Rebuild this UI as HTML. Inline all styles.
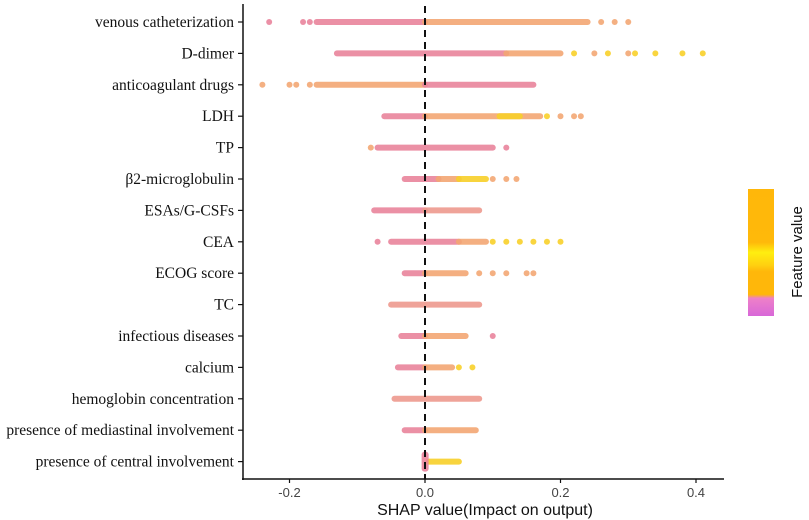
<!DOCTYPE html>
<html><head><meta charset="utf-8"><style>
body{margin:0;background:#fff;}
svg{display:block}
.lab{font-family:"Liberation Serif",serif;font-size:15.5px;fill:#111}
.tk{font-family:"Liberation Sans",sans-serif;font-size:13px;fill:#444}
</style></head><body>
<svg width="809" height="520">
<g id="plot"></g>
</svg>
<script>
const features=["venous catheterization","D-dimer","anticoagulant drugs","LDH","TP","β2-microglobulin","ESAs/G-CSFs","CEA","ECOG score","TC","infectious diseases","calcium","hemoglobin concentration","presence of mediastinal involvement","presence of central involvement"];
// dense bands: [featureIndex, start, end, colorKey]
const bandRow=[0,0,1,1,2,2,3,3,3,4,5,5,5,6,6,7,7,8,8,9,10,10,11,11,12,13,13,14];
const bandStart=[-0.16,0,-0.13,0.12,-0.16,0,-0.06,0,0.11,-0.07,-0.03,0.02,0.05,-0.075,0,-0.05,0.05,-0.03,0,-0.05,-0.035,0,-0.04,0,-0.045,-0.03,0,0.005];
const bandEnd=[0,0.24,0.12,0.2,0,0.16,0,0.17,0.14,0.1,0.02,0.05,0.09,0,0.08,0.05,0.09,0,0.06,0.08,0,0.06,0,0.04,0.08,0,0.075,0.05];
const bandColor=["p","o","p","o","o","p","p","o","y","p","p","o","y","p","s","p","o","p","o","s","p","o","p","o","s","p","o","y"];
// sparse points
const ptRow=[0,0,0,0,0,0,1,1,1,1,1,1,1,1,2,2,2,2,3,3,3,3,4,4,5,5,5,7,7,7,7,7,7,7,8,8,8,8,8,10,11,11];
const ptVal=[-0.23,-0.18,-0.17,0.26,0.28,0.30,0.22,0.25,0.27,0.30,0.31,0.34,0.38,0.41,-0.24,-0.2,-0.19,-0.17,0.2,0.22,0.23,0.18,-0.08,0.12,0.1,0.12,0.135,-0.07,0.1,0.12,0.14,0.16,0.18,0.2,0.08,0.1,0.12,0.15,0.16,0.1,0.05,0.07];
const ptColor=["p","p","p","o","o","o","y","o","y","o","y","y","y","y","o","o","o","o","o","o","o","y","o","p","o","o","o","p","y","y","y","y","y","y","o","o","o","o","o","p","y","y"];
const xTicks=[-0.2,0,0.2,0.4];
const xTickLabels=["-0.2","0.0","0.2","0.4"];
const colors={p:"#e9849c",o:"#f3a774",y:"#f8d02a",s:"#ee9a8e"};
const x0=425, xs=677.5, yTop=22, yStep=31.4;
const X=v=>x0+v*xs, Y=i=>yTop+i*yStep;
const NS="http://www.w3.org/2000/svg";
const g=document.getElementById('plot');
function mk(t,a){const e=document.createElementNS(NS,t);for(const k in a)e.setAttribute(k,a[k]);g.appendChild(e);return e;}
for(let i=0;i<bandRow.length;i++){
 const e=mk('line',{x1:X(bandStart[i]),x2:X(bandEnd[i]),y1:Y(bandRow[i]),y2:Y(bandRow[i]),stroke:colors[bandColor[i]],'stroke-width':6,'stroke-linecap':'round',opacity:0.9});
 
 
}
const cb=mk('rect',{x:X(-0.005),y:Y(14)-10,width:7,height:20,rx:3,fill:colors.p,opacity:0.9});


for(let i=0;i<ptRow.length;i++){
 const e=mk('circle',{cx:X(ptVal[i]),cy:Y(ptRow[i]),r:3,fill:colors[ptColor[i]],opacity:0.9});
 
 
}
const z=mk('line',{x1:X(0),x2:X(0),y1:6,y2:479,stroke:'#111','stroke-width':2,'stroke-dasharray':'7,5'});


const ay=mk('line',{x1:243,x2:243,y1:4,y2:480,stroke:'#111','stroke-width':1.5});


const ax=mk('line',{x1:242,x2:724,y1:479,y2:479,stroke:'#111','stroke-width':1.5});


features.forEach((f,i)=>{
 const t=mk('line',{x1:238,x2:243,y1:Y(i),y2:Y(i),stroke:'#111','stroke-width':1.2});
 
 
 const l=mk('text',{x:234,y:Y(i)+5,'text-anchor':'end',class:'lab'});
 l.textContent=f;
 
 
});
xTicks.forEach((v,i)=>{
 const t=mk('line',{x1:X(v),x2:X(v),y1:479,y2:483,stroke:'#111','stroke-width':1.2});
 
 
 const l=mk('text',{x:X(v),y:497,'text-anchor':'middle',class:'tk'});
 l.textContent=xTickLabels[i];
 
 
});
const tt=mk('text',{x:485,y:515,'text-anchor':'middle','font-family':'Liberation Sans, sans-serif','font-size':16,fill:'#111'});
tt.textContent='SHAP value(Impact on output)';


const d=mk('defs',{});
d.innerHTML='<linearGradient id="cbg" x1="0" y1="0" x2="0" y2="1"><stop offset="0" stop-color="#ffb70a"/><stop offset="0.42" stop-color="#ffb90a"/><stop offset="0.5" stop-color="#ffee10"/><stop offset="0.6" stop-color="#ffd010"/><stop offset="0.65" stop-color="#ffb70a"/><stop offset="0.83" stop-color="#ffb70a"/><stop offset="0.86" stop-color="#ee80c8"/><stop offset="1" stop-color="#d868d8"/></linearGradient>';
const cbar=mk('rect',{x:748,y:189,width:26,height:127,fill:'url(#cbg)'});


const ft=mk('text',{x:0,y:0,transform:'translate(802,252) rotate(-90)','text-anchor':'middle','font-family':'Liberation Sans, sans-serif','font-size':15,fill:'#111'});
ft.textContent='Feature value';


</script>
</body></html>
